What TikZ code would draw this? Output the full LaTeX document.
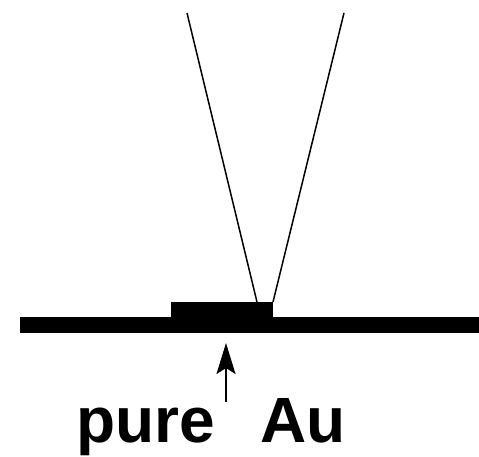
\documentclass[tikz,border=0pt]{standalone}
\usepackage{fontspec}
\setmainfont{Liberation Sans}
\usetikzlibrary{arrows.meta}
\begin{document}
\begin{tikzpicture}[x=1pt,y=-1pt,
  thinline/.style={line width=1.5pt},
  lbl/.style={font=\fontsize{64}{64}\selectfont\bfseries, inner sep=0pt, anchor=base west}]
\useasboundingbox (0,0) rectangle (479,457);
% base layer and gold pad
\fill (20,317) rectangle (479,333);
\fill (171,302) rectangle (273,317);
% beam lines
\coordinate (lt) at (187,13);
\coordinate (lb) at (257,302);
\coordinate (rt) at (344,13);
\coordinate (rb) at (273,302);
\draw[thinline] (lt) -- (lb);
\draw[thinline] (rt) -- (rb);
% labels
\node[lbl] (pure) at (76,442) {pure};
\node[lbl] (au) at (260,442) {Au};
% arrow
\coordinate (as) at (226,402);
\coordinate (ae) at (226,343);
\draw[line width=1.6pt, -{Stealth[length=31pt,width=19pt,inset=6pt]}] (as) -- (ae);
\end{tikzpicture}
\end{document}
